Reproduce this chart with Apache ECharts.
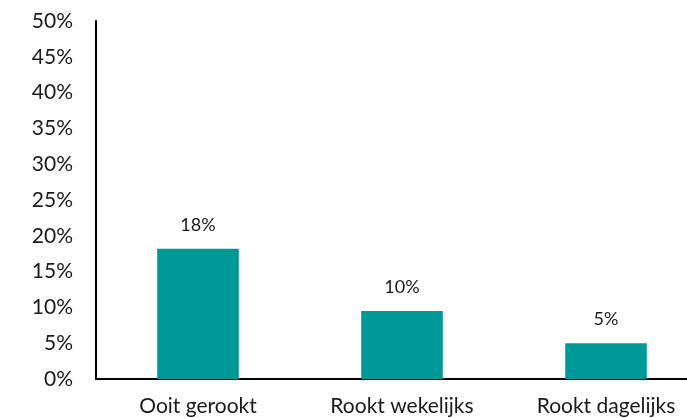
<!DOCTYPE html>
<html><head><meta charset="utf-8">
<script src="https://cdn.jsdelivr.net/npm/echarts@6/dist/echarts.min.js"></script>
<style>html,body{margin:0;padding:0;background:#fff}#c{width:687px;height:418px}</style>
</head><body><div id="c"></div>
<script>
const categories = ["Ooit gerookt", "Rookt wekelijks", "Rookt dagelijks"];
const values = [18.2, 9.5, 5.0];
const yTicks = [0, 5, 10, 15, 20, 25, 30, 35, 40, 45, 50];

const chart = echarts.init(document.getElementById('c'), null, {renderer: 'canvas'});
const font = 'Lato, "DejaVu Sans", sans-serif';
chart.setOption({
  animation: false,
  grid: {left: 96, width: 612, top: 21, bottom: 39, containLabel: false, outerBoundsMode: 'none'},
  xAxis: {
    type: 'category', data: categories,
    axisLine: {lineStyle: {color: '#000', width: 2}},
    axisTick: {show: false},
    axisLabel: {color: '#1a1a1a', fontSize: 21, fontFamily: font, margin: 17}
  },
  yAxis: {
    type: 'value', min: yTicks[0], max: yTicks[yTicks.length - 1], interval: 5,
    axisLine: {show: true, lineStyle: {color: '#000', width: 2}},
    axisTick: {show: false},
    splitLine: {show: false},
    axisLabel: {color: '#1a1a1a', fontSize: 21, fontFamily: font, margin: 23, formatter: v => v + '%'}
  },
  series: [{
    type: 'bar', data: values, barWidth: '40%',
    itemStyle: {color: '#009999'},
    label: {show: true, position: 'top', distance: 15, color: '#1a1a1a', fontSize: 18, fontFamily: font,
      formatter: p => Math.round(p.value) + '%'}
  }]
});
</script></body></html>
